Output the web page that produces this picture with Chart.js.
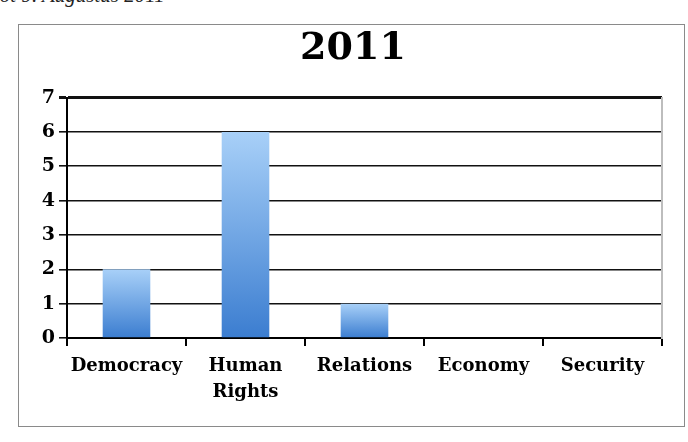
<!DOCTYPE html>
<html>
<head>
<meta charset="utf-8">
<script src="https://cdn.jsdelivr.net/npm/chart.js@4/dist/chart.umd.min.js"></script>
<style>
  html, body { margin: 0; padding: 0; background: #fff; }
  body { width: 688px; height: 442px; position: relative; overflow: hidden; }
  #caption {
    position: absolute; left: -6px; top: -15px;
    font: italic 21px "Liberation Serif", serif; line-height: 21px;
    color: #222; white-space: nowrap;
  }
  #frame {
    position: absolute; left: 18px; top: 24px; width: 667px; height: 403px;
    border: 1px solid #8a8a8a; box-sizing: border-box;
  }
  #wrap { position: absolute; left: 0; top: 0; width: 688px; height: 442px; }
</style>
</head>
<body>
<div id="caption">tot 9. Augustus 2011</div>
<div id="frame"></div>
<div id="wrap"><canvas id="chart" width="688" height="442"></canvas></div>
<script>
// ── Data ──────────────────────────────────────────────────────────────────
const categories = ['Democracy', ['Human', 'Rights'], 'Relations', 'Economy', 'Security'];
const counts     = [2, 6, 1, 0, 0];
const yTicks     = [0, 1, 2, 3, 4, 5, 6, 7];
const titleText  = '2011';

const BAR_TOP    = '#a8d0f8';
const BAR_BOTTOM = '#3b7dd0';
const SERIF      = '"DejaVu Serif", serif';

// gradient per bar, from its value down to zero
function barFill(ctx) {
  const chart = ctx.chart;
  if (!chart.chartArea || ctx.raw == null) return BAR_BOTTOM;
  if (!ctx.raw) return 'rgba(0,0,0,0)';
  const y = chart.scales.y;
  const g = chart.ctx.createLinearGradient(0, y.getPixelForValue(ctx.raw), 0, y.getPixelForValue(0));
  g.addColorStop(0, BAR_TOP);
  g.addColorStop(1, BAR_BOTTOM);
  return g;
}

new Chart(document.getElementById('chart'), {
  type: 'bar',
  data: {
    labels: categories,
    datasets: [{
      data: counts,
      backgroundColor: barFill,
      borderWidth: 0,
      barPercentage: 0.4,
      categoryPercentage: 1,
    }],
  },
  options: {
    responsive: false,
    animation: false,
    devicePixelRatio: 1,
    // left padding = frame edge, so the title centres on the frame
    layout: { padding: { left: 18, right: 0, top: 0, bottom: 0 } },
    plugins: {
      legend:  { display: false },
      tooltip: { enabled: false },
      title: {
        display: true,
        text: titleText,
        color: '#000',
        font: { family: SERIF, size: 38, weight: 'bold', lineHeight: 1.2 },
        padding: { top: 26, bottom: 26 },
      },
    },
    scales: {
      x: {
        offset: true,
        grid:   { display: true, drawOnChartArea: false, drawTicks: true, tickLength: 8, color: '#000', lineWidth: 2 },
        border: { display: true, color: '#000', width: 2 },
        ticks:  { color: '#000', padding: 7, maxRotation: 0, autoSkip: false,
                  font: { family: SERIF, size: 18, weight: 'bold', lineHeight: 1.45 } },
        afterFit(s) { s.height = 104; },
      },
      y: {
        min: 0, max: 7,
        afterBuildTicks(s) { s.ticks = yTicks.map(v => ({ value: v })); },
        grid:   { color: '#111', lineWidth: (c) => c.tick && c.tick.value === 7 ? 3 : 1.6, tickLength: 8 },
        border: { display: true, color: '#000', width: 2 },
        ticks:  { color: '#000', padding: 4,
                  font: { family: SERIF, size: 19, weight: 'bold' } },
        afterFit(s) { s.width = 49; },
      },
      yRight: {
        position: 'right',
        min: 0, max: 7,
        grid:   { display: false },
        ticks:  { display: false },
        border: { display: true, color: '#bdbdbd', width: 2 },
        afterFit(s) { s.width = 26; },
      },
    },
  },
});
</script>
</body>
</html>
